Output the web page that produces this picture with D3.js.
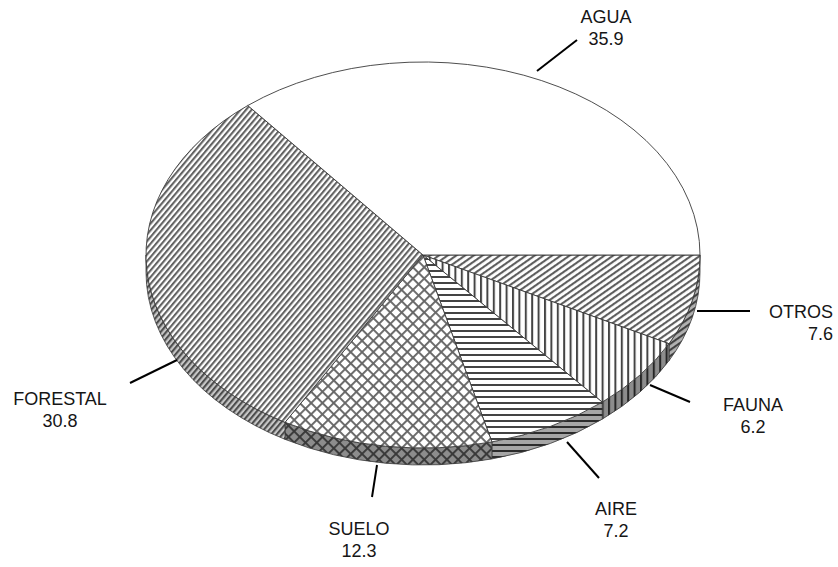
<!DOCTYPE html>
<html>
<head>
<meta charset="utf-8">
<script src="https://cdn.jsdelivr.net/npm/d3@7"></script>
<style>
  body { margin: 0; background: #fff; }
  text { font-family: "Liberation Sans", Arial, sans-serif; font-size: 18px; fill: #161616; }
  .slice { stroke: #3a3a3a; stroke-width: 0.9; stroke-linejoin: round; }
  .side { stroke: #3a3a3a; stroke-width: 0.8; }
  .leader { stroke: #000; stroke-width: 2; fill: none; }
</style>
</head>
<body>
<script>
// Slices, clockwise from 3 o'clock
var categories = ["OTROS", "FAUNA", "AIRE", "SUELO", "FORESTAL", "AGUA"];
var values = [7.6, 6.2, 7.2, 12.3, 30.8, 35.9];

// label placement (text anchor point + leader line ends)
var labelLayout = {
  OTROS:    {x: 833, y: 318, anchor: "end",    line: [[697, 311], [750, 311]], w: 2.6},
  FAUNA:    {x: 753, y: 411, anchor: "middle", line: [[650, 385], [690, 402]], w: 2},
  AIRE:     {x: 616, y: 515, anchor: "middle", line: [[567, 442], [599, 478]], w: 2},
  SUELO:    {x: 359, y: 535, anchor: "middle", line: [[377, 465], [372, 497]], w: 2},
  FORESTAL: {x: 60,  y: 405, anchor: "middle", line: [[177, 360], [130, 383]], w: 2},
  AGUA:     {x: 606, y: 23,  anchor: "middle", line: [[537, 71], [577, 40]], w: 2}
};

var width = 838, height = 567,
    cx = 423, cy = 255, rx = 277, ry = 193, depth = 17;

var svg = d3.select("body").append("svg")
    .attr("width", width)
    .attr("height", height);

svg.append("rect").attr("width", width).attr("height", height).attr("fill", "#fff");

var defs = svg.append("defs");

function stripes(id, period, lw, color, angle) {
  var p = defs.append("pattern")
      .attr("id", id)
      .attr("patternUnits", "userSpaceOnUse")
      .attr("width", period)
      .attr("height", period)
      .attr("patternTransform", "rotate(" + angle + ")");
  p.append("rect").attr("width", period).attr("height", period).attr("fill", "#fff");
  p.append("rect").attr("x", 0).attr("width", lw).attr("height", period).attr("fill", color);
}

stripes("p-forestal", 4.3, 2.1, "#626262", 40);
stripes("p-otros", 5, 2.1, "#5e5e5e", 55);
stripes("p-fauna", 6.4, 2, "#444", 0);
stripes("p-aire", 6, 2, "#444", 90);

var cross = defs.append("pattern")
    .attr("id", "p-suelo")
    .attr("patternUnits", "userSpaceOnUse")
    .attr("width", 8)
    .attr("height", 8)
    .attr("patternTransform", "rotate(45)");
cross.append("rect").attr("width", 8).attr("height", 8).attr("fill", "#fff");
cross.append("rect").attr("width", 1.9).attr("height", 8).attr("fill", "#666");
cross.append("rect").attr("width", 8).attr("height", 1.9).attr("fill", "#666");

var fills = {
  OTROS: "url(#p-otros)", FAUNA: "url(#p-fauna)", AIRE: "url(#p-aire)",
  SUELO: "url(#p-suelo)", FORESTAL: "url(#p-forestal)", AGUA: "#fff"
};
var shade = {OTROS: 0.3, FAUNA: 0.45, AIRE: 0.35, SUELO: 0.45, FORESTAL: 0.22, AGUA: 0.2};

var data = categories.map(function(c, i) { return {name: c, value: values[i]}; });

var arcs = d3.pie()
    .sort(null)
    .value(function(d) { return d.value; })
    .startAngle(Math.PI / 2)
    .endAngle(Math.PI / 2 + 2 * Math.PI)(data);

// d3 angle: clockwise from 12 o'clock
function pt(a, dy) {
  return [cx + rx * Math.sin(a), cy - ry * Math.cos(a) + (dy || 0)];
}

function topPath(d) {
  var p0 = pt(d.startAngle), p1 = pt(d.endAngle),
      large = d.endAngle - d.startAngle > Math.PI ? 1 : 0;
  return "M" + cx + "," + cy + "L" + p0 + "A" + rx + "," + ry + " 0 " + large + " 1 " + p1 + "Z";
}

function sidePath(d) {
  var a0 = Math.max(d.startAngle, Math.PI / 2),
      a1 = Math.min(d.endAngle, 3 * Math.PI / 2);
  if (a1 <= a0) return null;
  return "M" + pt(a0) + "A" + rx + "," + ry + " 0 0 1 " + pt(a1)
      + "L" + pt(a1, depth) + "A" + rx + "," + ry + " 0 0 0 " + pt(a0, depth) + "Z";
}

var sides = arcs.filter(function(d) { return sidePath(d); });

var side = svg.append("g").selectAll("g")
    .data(sides)
  .enter().append("g");

side.append("path")
    .attr("d", sidePath)
    .attr("fill", function(d) { return fills[d.data.name]; });

side.append("path")
    .attr("class", "side")
    .attr("d", sidePath)
    .attr("fill", "#000")
    .attr("fill-opacity", function(d) { return shade[d.data.name]; });

svg.append("g").selectAll("path")
    .data(arcs)
  .enter().append("path")
    .attr("class", "slice")
    .attr("d", topPath)
    .attr("fill", function(d) { return fills[d.data.name]; });

var label = svg.append("g").selectAll("g")
    .data(arcs)
  .enter().append("g");

label.append("path")
    .attr("class", "leader")
    .attr("stroke-width", function(d) { return labelLayout[d.data.name].w; })
    .attr("d", function(d) { return "M" + labelLayout[d.data.name].line.join("L"); });

label.append("text")
    .attr("x", function(d) { return labelLayout[d.data.name].x; })
    .attr("y", function(d) { return labelLayout[d.data.name].y; })
    .style("text-anchor", function(d) { return labelLayout[d.data.name].anchor; })
    .each(function(d) {
      var t = d3.select(this), L = labelLayout[d.data.name];
      t.append("tspan").attr("x", L.x).text(d.data.name);
      t.append("tspan").attr("x", L.x).attr("dy", 22).text(d.data.value.toFixed(1));
    });
</script>
</body>
</html>
